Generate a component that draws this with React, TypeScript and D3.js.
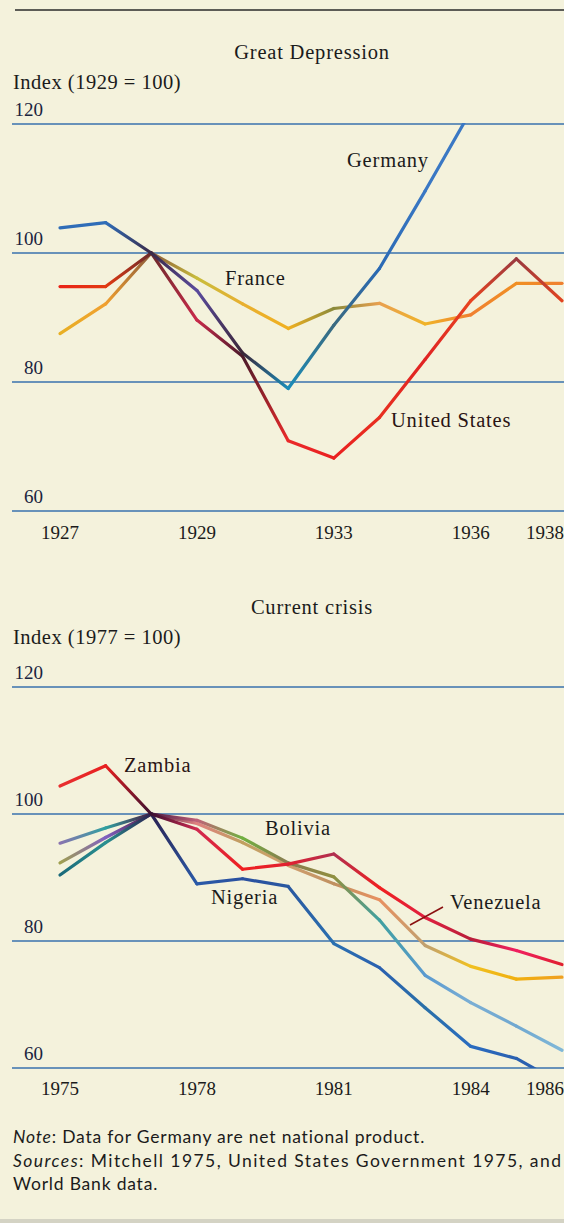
import React from "react";
import * as d3 from "d3";

// ---------- DATA ----------
// Great Depression (index 1929 = 100), one value per year 1927..1938
const yearsA = [1927, 1928, 1929, 1930, 1931, 1932, 1933, 1934, 1935, 1936, 1937, 1938];
const germanyA = [103.9, 104.7, 100, 94.2, 84.5, 79.0, 88.8, 97.6, 109.6, 122];
const unitedStatesA = [94.8, 94.8, 100, 89.6, 84.0, 70.9, 68.2, 74.5, 83.5, 92.6, 99.1, 92.6];
const franceA = [87.5, 92.1, 100, 96.1, 92.1, 88.3, 91.4, 92.2, 89.0, 90.4, 95.3, 95.3];
const tickIdxA = [0, 3, 6, 9, 11];
const tickLabelsA = ["1927", "1929", "1933", "1936", "1938"];

// Current crisis (index 1977 = 100), one value per year 1975..1986
const yearsB = [1975, 1976, 1977, 1978, 1979, 1980, 1981, 1982, 1983, 1984, 1985, 1986];
const zambiaB = [104.4, 107.6, 100, 97.6, 91.3, 92.1, 93.7, 88.4, 83.7, 80.3, 78.5, 76.3];
const boliviaB = [95.4, 97.8, 100, 99.0, 96.2, 92.3, 90.1, 83.3, 74.6, 70.3, 66.6, 62.8];
const venezuelaB = [92.3, 96.3, 100, 98.5, 95.5, 91.9, 89.0, 86.5, 79.3, 76.0, 74.0, 74.3];
const nigeriaB = [90.4, 95.5, 100, 89.0, 89.8, 88.6, 79.6, 75.8, 69.5, 63.4, 61.5, 57.5];
const tickIdxB = [0, 3, 6, 9, 11];
const tickLabelsB = ["1975", "1978", "1981", "1984", "1986"];

const yTicks = [120, 100, 80, 60];

// ---------- STYLE (per-vertex colours of the rainbow-shaded lines) ----------
const germanyColors = ["#2f6db8", "#2f6db8", "#3a2a48", "#5a4a9c", "#3a2638", "#1a8cb8", "#3a6a80", "#2a6ab4", "#3a78c4", "#3a78c4"];
const usColors = ["#ea2418", "#e23a12", "#6a2a2a", "#c82a4a", "#4a1a2a", "#ea2a2a", "#ea2020", "#e83020", "#e02424", "#e84420", "#9a3a40", "#e24420"];
const franceColors = ["#e8b024", "#f0a030", "#8a5a3a", "#c8bc3c", "#e8b030", "#f0b020", "#8a8a3a", "#e8a050", "#f0b428", "#f08030", "#f09024", "#f08030"];

const zambiaColors = ["#e83030", "#e82020", "#3a1030", "#d02a50", "#f02020", "#e02030", "#b03050", "#f02020", "#e02040", "#b81e3a", "#f02060", "#e02030"];
const boliviaColors = ["#8a74b0", "#30a0a0", "#4a1a40", "#c06078", "#70b040", "#8a7a50", "#909040", "#40a0a0", "#5a9ad0", "#7aaed4", "#70a8d0", "#80b8d8"];
const venezuelaColors = ["#a0a050", "#8060c0", "#4a1a40", "#e08080", "#c0a060", "#d0a070", "#c09060", "#e89060", "#c0a070", "#f0c020", "#f0b010", "#f0a020"];
const nigeriaColors = ["#1a6a7a", "#2a9090", "#2a2050", "#2a5aa8", "#2a50a0", "#2a58a0", "#2a70b0", "#2a60b0", "#2a70a8", "#2a6cc0", "#2a60b0", "#2a60b0"];

const BG = "#f4f2dc";
const GRID = "#3a72ae";
const INK = "#1b1b1b";
const SERIF = "'Liberation Serif', 'DejaVu Serif', serif";
const SANS = "Lato, 'Open Sans', sans-serif";

type P = [number, number];

function GradLine({ id, values, colors, x, y, clip }: any) {
  const pts: P[] = values.map((v: number, i: number) => [x(i), y(v)] as P);
  const line = d3.line<P>();
  const segs = [];
  for (let i = 0; i < pts.length - 1; i++) {
    const gid = `${id}-g${i}`;
    segs.push(
      <g key={i}>
        <defs>
          <linearGradient id={gid} gradientUnits="userSpaceOnUse" x1={pts[i][0]} y1={pts[i][1]} x2={pts[i + 1][0]} y2={pts[i + 1][1]}>
            <stop offset="0" stopColor={colors[i]} />
            <stop offset="1" stopColor={colors[i + 1]} />
          </linearGradient>
        </defs>
        <path d={line([pts[i], pts[i + 1]]) || ""} stroke={`url(#${gid})`} strokeWidth={3.2} fill="none" strokeLinecap="round" />
      </g>
    );
  }
  return <g clipPath={`url(#${clip})`}>{segs}</g>;
}

function Label({ x, y, children, fill = INK }: any) {
  return (
    <text x={x} y={y} fontFamily={SERIF} fontSize={20.5} letterSpacing={0.8} fill={fill}>{children}</text>
  );
}

function Panel({ idp, y0, y1, title, titleY, indexLabel, indexY, ticks, tickIdx, tickLabels, series, children, yearY }: any) {
  const x = d3.scaleLinear().domain([0, 11]).range([60, 562]);
  const y = d3.scaleLinear().domain([60, 120]).range([y1, y0]);
  return (
    <g>
      <defs>
        <clipPath id={`${idp}-clip`}>
          <rect x={0} y={y(120) - 1} width={564} height={y(60) - y(120) + 1} />
        </clipPath>
      </defs>
      <text x={312} y={titleY} textAnchor="middle" fontFamily={SERIF} fontSize={20.5} fill={INK} letterSpacing={0.8}>{title}</text>
      <text x={13} y={indexY} fontFamily={SERIF} fontSize={20.5} fill={INK} letterSpacing={0.5}>{indexLabel}</text>
      {ticks.map((t: number) => (
        <g key={t}>
          <line x1={12} x2={564} y1={y(t)} y2={y(t)} stroke={GRID} strokeWidth={1.5} />
          <text x={43} y={y(t) - 8} textAnchor="end" fontFamily={SERIF} fontSize={19} fill="#1a2440">{t}</text>
        </g>
      ))}
      {tickIdx.map((ti: number, k: number) => (
        <text key={k} x={k === tickIdx.length - 1 ? 564 : x(ti)} y={yearY} textAnchor={k === tickIdx.length - 1 ? "end" : "middle"} fontFamily={SERIF} fontSize={19} fill={INK}>{tickLabels[k]}</text>
      ))}
      {series.map((s: any) => (
        <GradLine key={s.id} id={`${idp}-${s.id}`} values={s.values} colors={s.colors} x={x} y={y} clip={`${idp}-clip`} />
      ))}
      {children}
    </g>
  );
}

export default function App() {
  return (
    <div style={{ position: "absolute", left: 0, top: 0 }}>
      <svg width={564} height={1223} viewBox="0 0 564 1223" style={{ display: "block" }}>
        <rect x={0} y={0} width={564} height={1223} fill={BG} />
        <line x1={15} x2={564} y1={10} y2={10} stroke="#2a2a2a" strokeWidth={1.5} />

        <Panel
          idp="a" y0={124} y1={511}
          title="Great Depression" titleY={59}
          indexLabel="Index (1929 = 100)" indexY={89}
          ticks={yTicks} tickIdx={tickIdxA} tickLabels={tickLabelsA} yearY={539}
          series={[
            { id: "fr", values: franceA, colors: franceColors },
            { id: "us", values: unitedStatesA, colors: usColors },
            { id: "de", values: germanyA, colors: germanyColors },
          ]}
        >
          <Label x={347} y={167}>Germany</Label>
          <Label x={225} y={285}>France</Label>
          <Label x={391} y={427} fill="#2a1414">United States</Label>
        </Panel>

        <Panel
          idp="b" y0={687} y1={1068}
          title="Current crisis" titleY={614}
          indexLabel="Index (1977 = 100)" indexY={644}
          ticks={yTicks} tickIdx={tickIdxB} tickLabels={tickLabelsB} yearY={1095}
          series={[
            { id: "ve", values: venezuelaB, colors: venezuelaColors },
            { id: "bo", values: boliviaB, colors: boliviaColors },
            { id: "ng", values: nigeriaB, colors: nigeriaColors },
            { id: "za", values: zambiaB, colors: zambiaColors },
          ]}
        >
          <Label x={124} y={772} fill="#2a1414">Zambia</Label>
          <Label x={265} y={835}>Bolivia</Label>
          <Label x={211} y={904}>Nigeria</Label>
          <Label x={450} y={909}>Venezuela</Label>
          <line x1={410} y1={925} x2={443} y2={907} stroke="#8a1010" strokeWidth={1.5} />
        </Panel>

        <text x={13} y={1143} fontFamily={SANS} fontSize={17.5} letterSpacing={0.8} fill={INK}>
          <tspan fontStyle="italic">Note</tspan>: Data for Germany are net national product.
        </text>
        <text x={13} y={1167} fontFamily={SANS} fontSize={17.5} fill={INK} textLength={548} lengthAdjust="spacing">
          <tspan fontStyle="italic">Sources</tspan>: Mitchell 1975, United States Government 1975, and
        </text>
        <text x={13} y={1190} fontFamily={SANS} fontSize={17.5} letterSpacing={0.8} fill={INK}>World Bank data.</text>
        <rect x={0} y={1219} width={564} height={4} fill="#d4d3c4" />
      </svg>
    </div>
  );
}
